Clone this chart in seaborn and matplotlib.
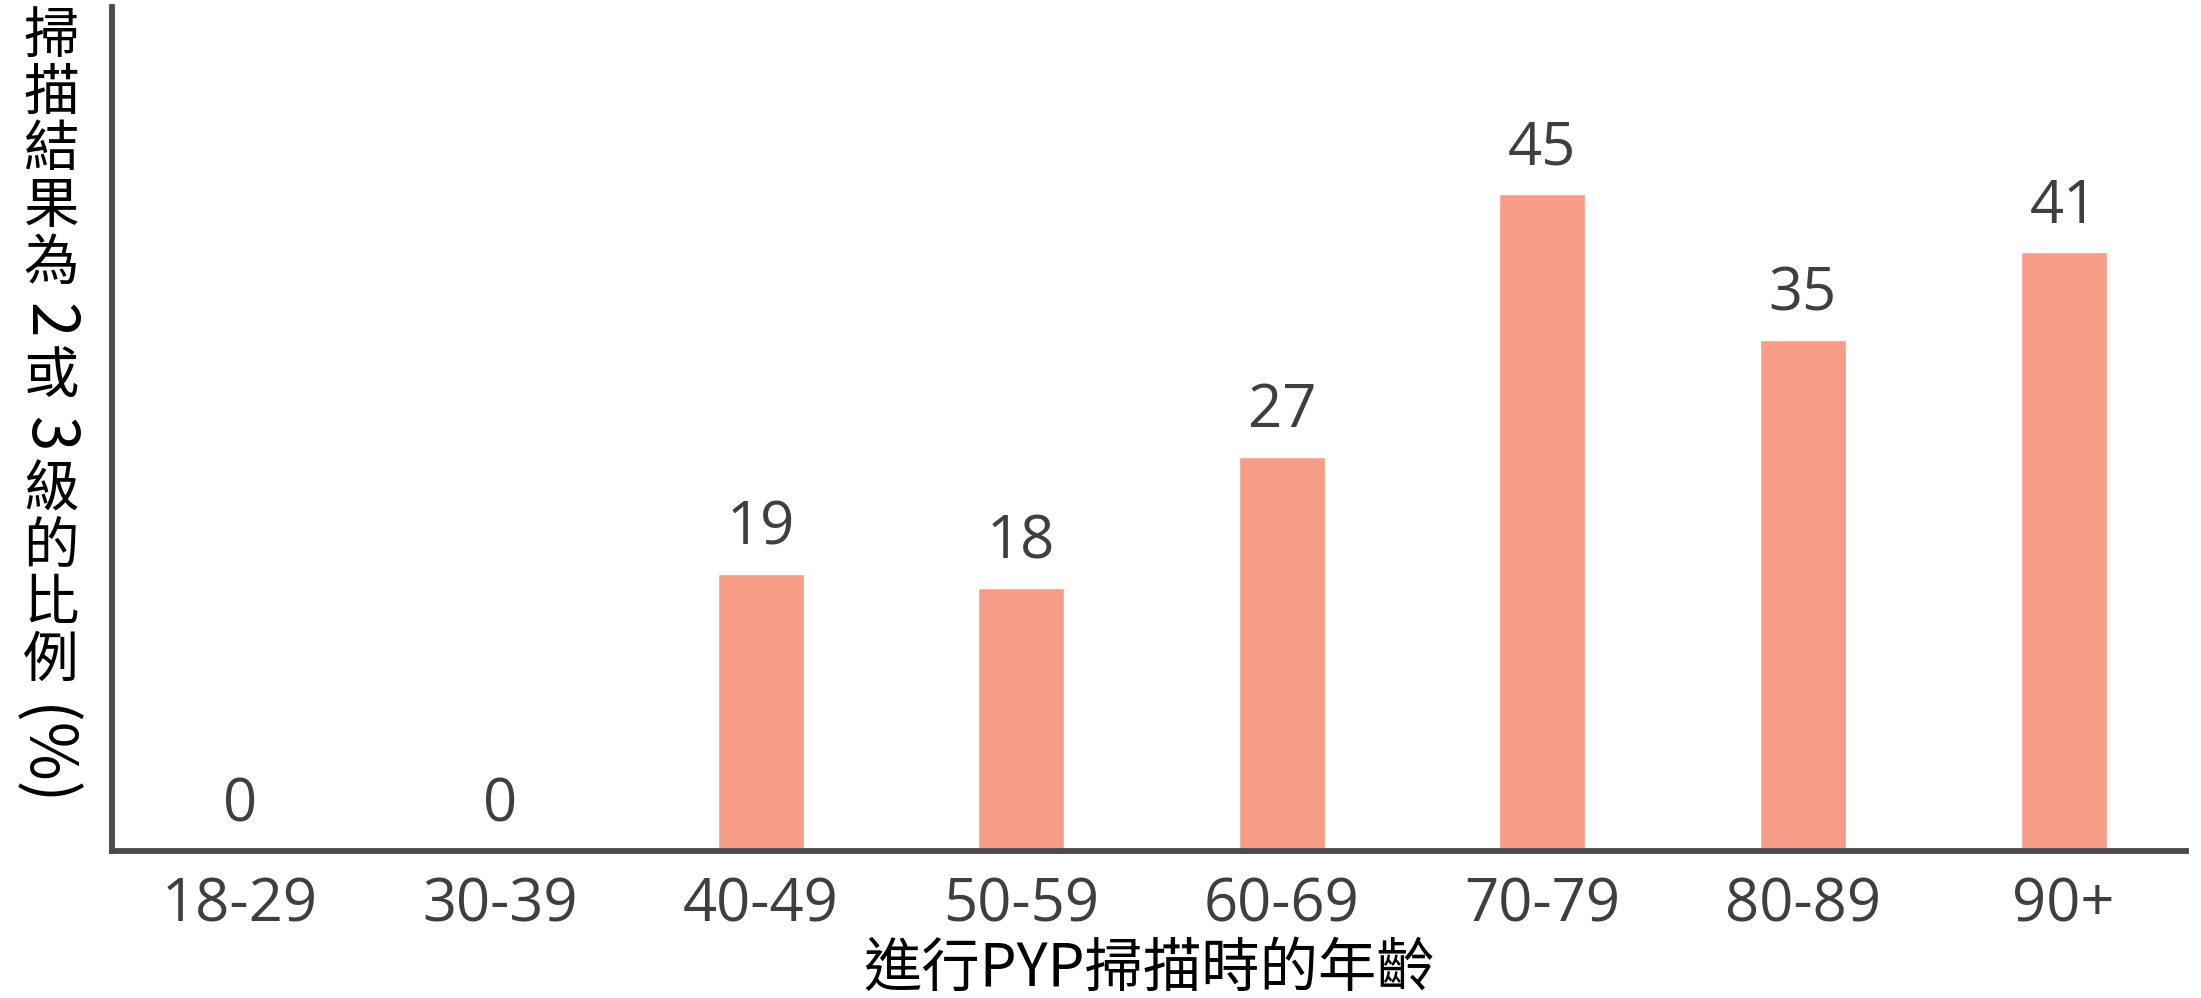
import matplotlib
matplotlib.use("Agg")
import matplotlib.pyplot as plt
import seaborn as sns
import pandas as pd

# ---- data ----
age_groups = ["18-29", "30-39", "40-49", "50-59", "60-69", "70-79", "80-89", "90+"]
percent = [0, 0, 19, 18, 27, 45, 35, 41]
x_label = "進行PYP掃描時的年齡"
y_label_parts = ["掃", "描", "結", "果", "為", "2", "或", "3", "級", "的", "比", "例", " (%)"]

sns.set_theme(style="white")
plt.rcParams["font.family"] = ["Open Sans", "Noto Sans CJK TC", "DejaVu Sans"]

W, H, DPI = 2201, 998, 100
fig = plt.figure(figsize=(W / DPI, H / DPI), dpi=DPI)
ax = fig.add_axes([112 / W, 1 - 851 / H, (2186 - 112) / W, (851 - 7) / H])

df = pd.DataFrame({"age": age_groups, "pct": percent})
sns.barplot(data=df, x="age", y="pct", color="#F69C87", saturation=1,
            width=0.33, ax=ax, order=age_groups)

ax.set_xlim(-0.49, 7.47)
ax.set_ylim(0, 57.8)

label_color = "#3f3f3f"
num_fs = 43
for c in ax.containers:
    ax.bar_label(c, labels=[str(v) for v in percent], padding=11,
                 fontsize=num_fs, color=label_color, family="Open Sans")

for s in ["top", "right"]:
    ax.spines[s].set_visible(False)
for s in ["left", "bottom"]:
    ax.spines[s].set_linewidth(4.2)
    ax.spines[s].set_color("#4a4a4a")

ax.set_yticks([])
ax.set_ylabel("")
ax.set_xlabel("")
ax.tick_params(axis="x", length=0, pad=18, labelsize=num_fs, labelcolor=label_color)
for t in ax.get_xticklabels():
    t.set_family("Open Sans")

# x axis title
cx = (112 + 2186) / 2 / W
fig.text(cx, 1 - 969 / H, x_label, ha="center", va="center", fontsize=42,
         color="black", family=["Noto Sans CJK TC", "DejaVu Sans"])

# y axis title: vertical CJK layout, Latin parts rotated clockwise
fs = 40
em_px = fs * DPI / 72
step = 1.02 * em_px
ycur = 9.0
xc = 51 / W
for part in y_label_parts:
    if len(part) == 1 and not part.isascii():
        yc = ycur + step / 2
        fig.text(xc, 1 - yc / H, part, ha="center", va="center", fontsize=fs,
                 color="black", family=["Noto Sans CJK TC", "DejaVu Sans"])
        ycur += step
    else:
        length = step if len(part) == 1 else 1.95 * em_px
        yc = ycur + length / 2
        fig.text(xc - 3 / W, 1 - yc / H, part, ha="center", va="center",
                 fontsize=46, color="black", rotation=-90,
                 family=["Noto Sans CJK TC", "DejaVu Sans"])
        ycur += length

fig.savefig("out.png", dpi=DPI)
